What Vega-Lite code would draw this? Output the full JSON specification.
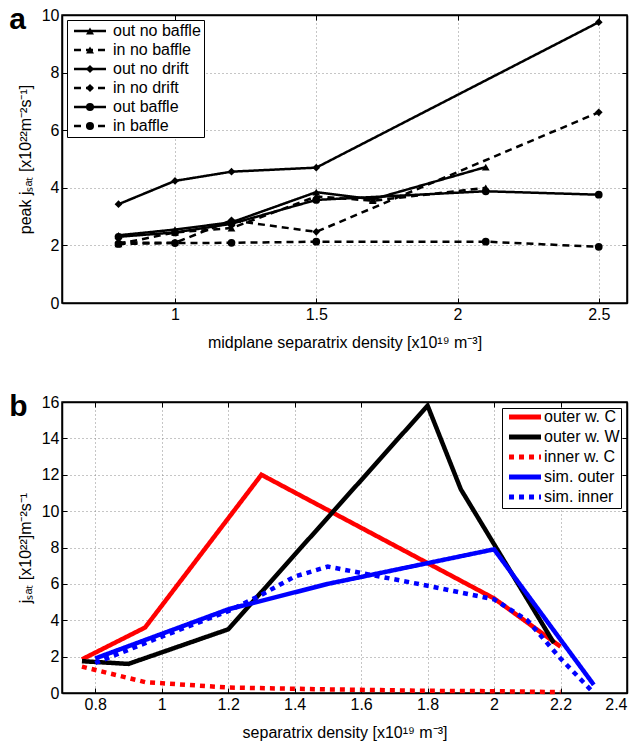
{
  "$schema": "https://vega.github.io/schema/vega-lite/v6.json",
  "background": "white",
  "padding": {"left": 8, "top": 4, "right": 8, "bottom": 4},
  "spacing": 40,
  "config": {
    "font": "Liberation Sans",
    "view": {"stroke": "black", "strokeWidth": 1.5},
    "axis": {
      "labelFont": "Liberation Sans", "titleFont": "Liberation Sans",
      "labelFontSize": 16, "titleFontSize": 16, "titleFontWeight": "normal",
      "labelColor": "black", "titleColor": "black",
      "domainColor": "black", "domainWidth": 1.5, "tickColor": "black",
      "gridColor": "#8c8c8c", "gridDash": [1, 3], "gridWidth": 1,
      "tickSize": -5, "labelPadding": 8
    },
    "legend": {"labelFont": "Liberation Sans", "labelFontSize": 16, "labelColor": "black"}
  },
  "resolve": {
    "scale": {"strokeDash": "independent", "color": "independent", "shape": "independent"},
    "legend": {"strokeDash": "independent", "color": "independent", "shape": "independent"}
  },
  "datasets": {
    "a": [
      {"series": "out no baffle", "x": 0.8, "y": 2.35},
      {"series": "out no baffle", "x": 1.0, "y": 2.55},
      {"series": "out no baffle", "x": 1.2, "y": 2.8},
      {"series": "out no baffle", "x": 1.5, "y": 3.85},
      {"series": "out no baffle", "x": 1.7, "y": 3.6},
      {"series": "out no baffle", "x": 2.1, "y": 4.72},
      {"series": "in no baffle", "x": 0.8, "y": 2.05},
      {"series": "in no baffle", "x": 1.0, "y": 2.45},
      {"series": "in no baffle", "x": 1.2, "y": 2.6},
      {"series": "in no baffle", "x": 1.5, "y": 3.7},
      {"series": "in no baffle", "x": 1.7, "y": 3.55},
      {"series": "in no baffle", "x": 2.1, "y": 4.0},
      {"series": "out no drift", "x": 0.8, "y": 3.43},
      {"series": "out no drift", "x": 1.0, "y": 4.24},
      {"series": "out no drift", "x": 1.2, "y": 4.56},
      {"series": "out no drift", "x": 1.5, "y": 4.7},
      {"series": "out no drift", "x": 2.5, "y": 9.75},
      {"series": "in no drift", "x": 0.8, "y": 2.1},
      {"series": "in no drift", "x": 1.0, "y": 2.09},
      {"series": "in no drift", "x": 1.2, "y": 2.87},
      {"series": "in no drift", "x": 1.5, "y": 2.47},
      {"series": "in no drift", "x": 2.5, "y": 6.62},
      {"series": "out baffle", "x": 0.8, "y": 2.3},
      {"series": "out baffle", "x": 1.0, "y": 2.45},
      {"series": "out baffle", "x": 1.2, "y": 2.75},
      {"series": "out baffle", "x": 1.5, "y": 3.58},
      {"series": "out baffle", "x": 2.1, "y": 3.88},
      {"series": "out baffle", "x": 2.5, "y": 3.76},
      {"series": "in baffle", "x": 0.8, "y": 2.05},
      {"series": "in baffle", "x": 1.0, "y": 2.08},
      {"series": "in baffle", "x": 1.2, "y": 2.09},
      {"series": "in baffle", "x": 1.5, "y": 2.13},
      {"series": "in baffle", "x": 2.1, "y": 2.13},
      {"series": "in baffle", "x": 2.5, "y": 1.95}
    ],
    "b": [
      {"series": "outer w. C", "x": 0.76, "y": 1.85},
      {"series": "outer w. C", "x": 0.95, "y": 3.6},
      {"series": "outer w. C", "x": 1.3, "y": 12.0},
      {"series": "outer w. C", "x": 2.0, "y": 5.2},
      {"series": "outer w. C", "x": 2.2, "y": 2.55},
      {"series": "outer w. W", "x": 0.76, "y": 1.75},
      {"series": "outer w. W", "x": 0.9, "y": 1.6},
      {"series": "outer w. W", "x": 1.2, "y": 3.5},
      {"series": "outer w. W", "x": 1.8, "y": 15.8},
      {"series": "outer w. W", "x": 1.9, "y": 11.2},
      {"series": "outer w. W", "x": 2.18, "y": 2.75},
      {"series": "inner w. C", "x": 0.76, "y": 1.45},
      {"series": "inner w. C", "x": 0.95, "y": 0.6},
      {"series": "inner w. C", "x": 1.2, "y": 0.3},
      {"series": "inner w. C", "x": 1.5, "y": 0.2},
      {"series": "inner w. C", "x": 1.8, "y": 0.12},
      {"series": "inner w. C", "x": 2.0, "y": 0.1},
      {"series": "inner w. C", "x": 2.2, "y": 0.05},
      {"series": "sim. outer", "x": 0.8, "y": 1.9},
      {"series": "sim. outer", "x": 1.2, "y": 4.6},
      {"series": "sim. outer", "x": 1.5, "y": 6.0},
      {"series": "sim. outer", "x": 2.0, "y": 7.9},
      {"series": "sim. outer", "x": 2.3, "y": 0.45},
      {"series": "sim. inner", "x": 0.8, "y": 1.65},
      {"series": "sim. inner", "x": 1.0, "y": 3.1},
      {"series": "sim. inner", "x": 1.2, "y": 4.5},
      {"series": "sim. inner", "x": 1.3, "y": 5.4},
      {"series": "sim. inner", "x": 1.4, "y": 6.4},
      {"series": "sim. inner", "x": 1.5, "y": 6.95},
      {"series": "sim. inner", "x": 1.6, "y": 6.6},
      {"series": "sim. inner", "x": 1.8, "y": 5.9},
      {"series": "sim. inner", "x": 2.0, "y": 5.15},
      {"series": "sim. inner", "x": 2.1, "y": 4.0},
      {"series": "sim. inner", "x": 2.2, "y": 1.9},
      {"series": "sim. inner", "x": 2.3, "y": 0.0}
    ]
  },
  "vconcat": [
    {
      "width": 565, "height": 288,
      "data": {"name": "a"},
      "title": {"text": "a", "anchor": "start", "frame": "bounds", "fontSize": 30, "fontWeight": "bold", "font": "Liberation Sans", "dx": -8, "dy": 28, "offset": 0},
      "layer": [
        {
          "mark": {"type": "line", "color": "black", "strokeWidth": 2.5},
          "encoding": {
            "x": {"field": "x", "type": "quantitative", "scale": {"domain": [0.6, 2.6], "nice": false, "zero": false},
                  "axis": {"values": [1, 1.5, 2, 2.5], "format": "~g", "title": "midplane separatrix density [x10¹⁹ m⁻³]", "titlePadding": 12}},
            "y": {"field": "y", "type": "quantitative", "scale": {"domain": [0, 10], "nice": false},
                  "axis": {"values": [0, 2, 4, 6, 8, 10], "title": "peak jₛₐₜ [x10²²m⁻²s⁻¹]", "titlePadding": 8}},
            "strokeDash": {"field": "series", "type": "nominal",
              "scale": {"domain": ["out no baffle", "in no baffle", "out no drift", "in no drift", "out baffle", "in baffle"],
                        "range": [[1, 0], [7, 5], [1, 0], [7, 5], [1, 0], [7, 5]]},
              "legend": {"title": null, "orient": "top-left", "offset": 5, "symbolType": "M-4,0H4", "symbolSize": 64,
                         "symbolStrokeWidth": 2.5, "symbolStrokeColor": "black",
                         "symbolOffset": 12, "labelOffset": 15, "rowPadding": 3, "padding": 3,
                         "strokeColor": "black", "fillColor": "white", "cornerRadius": 0}}
          }
        },
        {
          "mark": {"type": "point", "filled": true, "color": "black", "size": 60, "opacity": 1},
          "encoding": {
            "x": {"field": "x", "type": "quantitative", "axis": null},
            "y": {"field": "y", "type": "quantitative", "axis": null},
            "shape": {"field": "series", "type": "nominal",
              "scale": {"domain": ["out no baffle", "in no baffle", "out no drift", "in no drift", "out baffle", "in baffle"],
                        "range": ["triangle-up", "triangle-up", "diamond", "diamond", "circle", "circle"]},
              "legend": {"title": null, "orient": "none", "legendX": 5, "legendY": 5, "symbolSize": 64,
                         "symbolFillColor": "black", "symbolStrokeColor": "black", "symbolStrokeWidth": 1,
                         "symbolOffset": 12, "labelOffset": 15, "rowPadding": 3, "padding": 3, "labelOpacity": 0,
                         "cornerRadius": 0}}
          }
        },
        {
          "mark": {"type": "point", "opacity": 0},
          "encoding": {
            "x": {"field": "x", "type": "quantitative", "axis": {"orient": "top", "values": [1, 1.5, 2, 2.5], "labels": false, "title": null, "grid": false}},
            "y": {"field": "y", "type": "quantitative", "axis": {"orient": "right", "values": [0, 2, 4, 6, 8, 10], "labels": false, "title": null, "grid": false}}
          }
        }
      ],
      "resolve": {"axis": {"x": "independent", "y": "independent"}}
    },
    {
      "width": 565, "height": 291,
      "data": {"name": "b"},
      "title": {"text": "b", "anchor": "start", "frame": "bounds", "fontSize": 30, "fontWeight": "bold", "font": "Liberation Sans", "dx": -8, "dy": 28, "offset": 0},
      "layer": [
        {
          "mark": {"type": "line", "strokeWidth": 4.5},
          "encoding": {
            "x": {"field": "x", "type": "quantitative", "scale": {"domain": [0.7, 2.4], "nice": false, "zero": false},
                  "axis": {"values": [0.8, 1, 1.2, 1.4, 1.6, 1.8, 2, 2.2, 2.4], "format": "~g", "title": "separatrix density [x10¹⁹ m⁻³]", "titlePadding": 12}},
            "y": {"field": "y", "type": "quantitative", "scale": {"domain": [0, 16], "nice": false},
                  "axis": {"values": [0, 2, 4, 6, 8, 10, 12, 14, 16], "title": "jₛₐₜ [x10²²]m⁻²s⁻¹", "titlePadding": 8}},
            "color": {"field": "series", "type": "nominal",
              "scale": {"domain": ["outer w. C", "outer w. W", "inner w. C", "sim. outer", "sim. inner"],
                        "range": ["#ff0000", "#000000", "#ff0000", "#0000ff", "#0000ff"]},
              "legend": {"title": null, "orient": "top-right", "offset": 6, "symbolType": "M-4,0H4", "symbolSize": 64,
                         "symbolStrokeWidth": 5, "symbolOffset": 14, "labelOffset": 11, "rowPadding": 0, "padding": 1,
                         "strokeColor": "black", "fillColor": "white", "cornerRadius": 0}},
            "strokeDash": {"field": "series", "type": "nominal",
              "scale": {"domain": ["outer w. C", "outer w. W", "inner w. C", "sim. outer", "sim. inner"],
                        "range": [[1, 0], [1, 0], [5, 5], [1, 0], [5, 5]]}}
          }
        },
        {
          "mark": {"type": "point", "opacity": 0},
          "encoding": {
            "x": {"field": "x", "type": "quantitative", "axis": {"orient": "top", "values": [0.8, 1, 1.2, 1.4, 1.6, 1.8, 2, 2.2, 2.4], "labels": false, "title": null, "grid": false}},
            "y": {"field": "y", "type": "quantitative", "axis": {"orient": "right", "values": [0, 2, 4, 6, 8, 10, 12, 14, 16], "labels": false, "title": null, "grid": false}}
          }
        }
      ],
      "resolve": {"axis": {"x": "independent", "y": "independent"}}
    }
  ]
}
